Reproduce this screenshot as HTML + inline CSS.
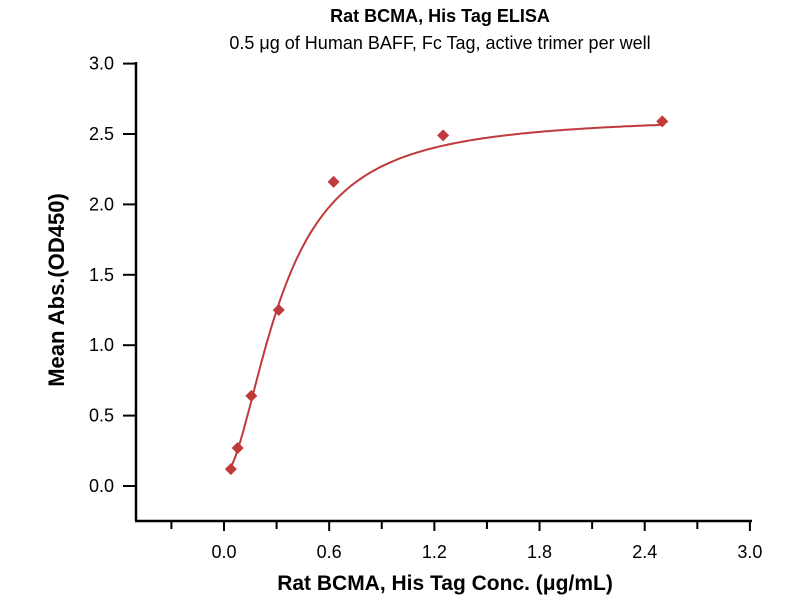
<!DOCTYPE html>
<html><head><meta charset="utf-8"><style>body{margin:0;background:#fff}svg{display:block}text{font-family:"Liberation Sans",sans-serif}</style></head>
<body>
<svg id="s" width="800" height="600" xmlns="http://www.w3.org/2000/svg">
<text x="440" y="22" text-anchor="middle" font-size="18" font-weight="bold">Rat BCMA, His Tag ELISA</text>
<text x="440" y="49" text-anchor="middle" font-size="18">0.5 μg of Human BAFF, Fc Tag, active trimer per well</text>
<g stroke="#000" stroke-width="2.5" fill="none">
<line x1="136" y1="62" x2="136" y2="521"/>
<line x1="135" y1="521" x2="752" y2="521"/>
</g>
<g id="ticks" stroke="#000" stroke-width="2"></g>
<g id="labels" font-size="18"></g>
<text x="445" y="590" text-anchor="middle" font-size="21" font-weight="bold">Rat BCMA, His Tag Conc. (μg/mL)</text>
<text transform="translate(64,290) rotate(-90)" text-anchor="middle" font-size="22" font-weight="bold">Mean Abs.(OD450)</text>
<path id="c" fill="none" stroke="#c0393b" stroke-width="2"/>
<g id="pts" fill="#c0393b"></g>
</svg>
<script>
var X=v=>224+v*175.3, Y=v=>486-v*140.8;
var t=document.getElementById('ticks'),l=document.getElementById('labels'),ns='http://www.w3.org/2000/svg';
function el(p,n,a,tx){var e=document.createElementNS(ns,n);for(var k in a)e.setAttribute(k,a[k]);if(tx)e.textContent=tx;p.appendChild(e);}
for(var i=0;i<=6;i++){var v=i*0.5,y=Y(v);el(t,'line',{x1:123,x2:136,y1:y,y2:y});el(l,'text',{x:114,y:y+6,'text-anchor':'end'},v.toFixed(1));}
for(var v=-0.3;v<=3.01;v+=0.3){var x=X(v),maj=Math.abs(Math.round(v/0.6)*0.6-v)<0.01;el(t,'line',{x1:x,x2:x,y1:521,y2:maj?531:529});if(maj)el(l,'text',{x:x,y:558,'text-anchor':'middle'},v.toFixed(1));}
var d='';for(var i=0;i<=200;i++){var c=0.039+i*(2.461/200);var f=0.08+2.55/(1+Math.pow(0.33/c,1.8));d+=(i?'L':'M')+X(c).toFixed(1)+','+Y(f).toFixed(1);}
document.getElementById('c').setAttribute('d',d);
var P=[[0.039,0.12],[0.078,0.27],[0.156,0.64],[0.3125,1.25],[0.625,2.16],[1.25,2.49],[2.5,2.59]];
P.forEach(p=>{var x=X(p[0]),y=Y(p[1]);el(document.getElementById('pts'),'polygon',{points:(x)+','+(y-6)+' '+(x+6)+','+y+' '+x+','+(y+6)+' '+(x-6)+','+y});});
</script>
</body></html>
